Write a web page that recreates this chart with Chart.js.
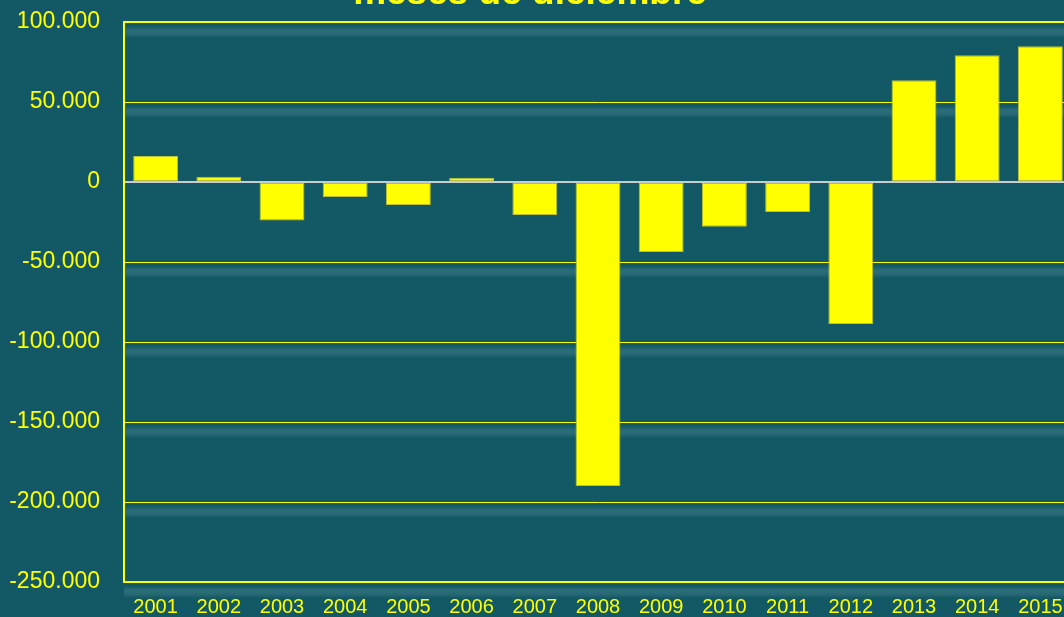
<!DOCTYPE html>
<html>
<head>
<meta charset="utf-8">
<script src="https://cdn.jsdelivr.net/npm/chart.js@4/dist/chart.umd.min.js"></script>
<style>
  html, body { margin: 0; padding: 0; overflow: hidden; background: #125965; }
  #wrap { position: relative; width: 1072px; height: 617px; }
</style>
</head>
<body>
<div id="wrap"><canvas id="chart"></canvas></div>
<script>
// Data
var years = ['2001', '2002', '2003', '2004', '2005', '2006', '2007', '2008',
             '2009', '2010', '2011', '2012', '2013', '2014', '2015'];
var values = [16200, 3300, -24000, -9400, -14400, 2600, -20600, -190000,
              -43800, -28000, -18800, -88700, 63600, 79200, 84800];
var titleText = 'meses de diciembre';

var yellow = '#ffff00';

// Lighter bands just under each grid line (3D look of the original)
var stripes = {
    id: 'stripes',
    beforeDatasetsDraw: function (chart) {
        var ctx = chart.ctx;
        var area = chart.chartArea;
        var y = chart.scales.y;
        ctx.save();
        y.ticks.forEach(function (t) {
            if (t.value === 0) return;
            var py = y.getPixelForValue(t.value);
            var g = ctx.createLinearGradient(0, py + 4, 0, py + 16);
            g.addColorStop(0, 'rgba(255,255,255,0)');
            g.addColorStop(0.45, 'rgba(140,190,195,0.2)');
            g.addColorStop(1, 'rgba(255,255,255,0)');
            ctx.fillStyle = g;
            ctx.fillRect(area.left, py + 4, area.right - area.left, 12);
        });
        ctx.restore();
    }
};

// Title is cut off at the top of the picture
var topTitle = {
    id: 'topTitle',
    afterDraw: function (chart) {
        var ctx = chart.ctx;
        ctx.save();
        ctx.font = 'bold 37px "Liberation Sans", Arial, sans-serif';
        ctx.fillStyle = yellow;
        ctx.textAlign = 'center';
        ctx.textBaseline = 'alphabetic';
        ctx.fillText(titleText, 530, 4);
        ctx.restore();
    }
};

new Chart(document.getElementById('chart'), {
    type: 'bar',
    data: {
        labels: years,
        datasets: [{
            data: values,
            backgroundColor: yellow,
            borderColor: '#b9bd3c',
            borderWidth: 1,
            borderSkipped: false,
            categoryPercentage: 1,
            barPercentage: 0.71
        }]
    },
    options: {
        responsive: true,
        maintainAspectRatio: false,
        animation: false,
        layout: { padding: { top: 22, left: 0, right: 0, bottom: 0 } },
        plugins: {
            legend: { display: false },
            tooltip: { enabled: false },
            title: { display: false }
        },
        scales: {
            x: {
                grid: { display: false },
                border: { display: true, color: yellow, width: 2 },
                ticks: {
                    color: yellow,
                    padding: 5,
                    maxRotation: 0,
                    font: { family: '"Liberation Sans", Arial, sans-serif', size: 20 }
                },
                afterFit: function (scale) {
                    scale.height = 35;
                    scale.paddingLeft = 0;
                    scale.paddingRight = 0;
                }
            },
            y: {
                min: -250000,
                max: 100000,
                grid: {
                    drawTicks: false,
                    color: function (c) { return c.tick && c.tick.value === 0 ? '#c9cccc' : yellow; },
                    lineWidth: function (c) {
                        if (!c.tick) return 1;
                        return (c.tick.value === 0 || c.tick.value === 100000) ? 2 : 1;
                    }
                },
                border: { display: true, color: yellow, width: 2 },
                ticks: {
                    stepSize: 50000,
                    color: yellow,
                    padding: 24,
                    font: { family: '"Liberation Sans", Arial, sans-serif', size: 23 },
                    callback: function (v) {
                        return v.toLocaleString('de-DE');
                    }
                },
                afterFit: function (scale) {
                    scale.width = 124;
                    scale.paddingTop = 0;
                    scale.paddingBottom = 0;
                }
            }
        }
    },
    plugins: [stripes, topTitle]
});
</script>
</body>
</html>
